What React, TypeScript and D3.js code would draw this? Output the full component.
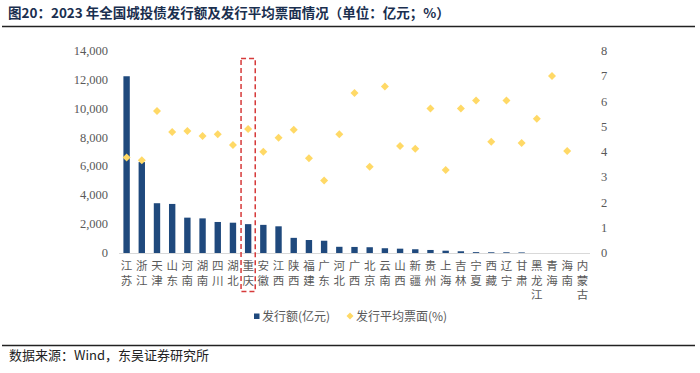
import React from "react";
import { scaleBand, scaleLinear, format, range } from "d3";

const provinces = [
  "江苏", "浙江", "天津", "山东", "河南", "湖南", "四川", "湖北", "重庆", "安徽", "江西",
  "陕西", "福建", "广东", "河北", "广西", "北京", "云南", "山西", "新疆", "贵州", "上海",
  "吉林", "宁夏", "西藏", "辽宁", "甘肃", "黑龙江", "青海", "海南", "内蒙古",
];

// 发行额(亿元)
const issuance = [
  12250, 6300, 3450, 3400, 2450, 2400, 2150, 2100, 2000, 1950, 1850,
  1050, 900, 850, 430, 420, 400, 330, 300, 260, 210, 160,
  120, 60, 50, 50, 40, null, null, null, null,
];

// 发行平均票面(%)
const coupon = [
  3.78, 3.67, 5.62, 4.79, 4.83, 4.63, 4.7, 4.28, 4.91, 4.01, 4.56,
  4.88, 3.75, 2.87, 4.7, 6.34, 3.42, 6.59, 4.24, 4.13, 5.72, 3.29,
  5.72, 6.04, 4.41, 6.04, 4.36, 5.32, 7.01, 4.04, null,
];

const leftTicks = range(0, 14001, 2000);
const rightTicks = range(0, 9, 1);
const highlight = "重庆";

const W = 700;
const H = 373;
const cjk = "'Noto Sans CJK SC', sans-serif";
const serif = "'Liberation Serif', 'Times New Roman', serif";
const grey = "#595959";

export default function App() {
  const x = scaleBand<string>().domain(provinces).range([119, 590]).paddingInner(0.58).paddingOuter(0.29);
  const yL = scaleLinear().domain([0, 14000]).range([253, 51]);
  const yR = scaleLinear().domain([0, 8]).range([253, 51]);
  const fmt = format(",");
  const bw = x.bandwidth();
  const step = x.step();
  const hx = (x(highlight) as number) + bw / 2;

  return (
    <svg width={W} height={H} style={{ position: "absolute", left: 0, top: 0, background: "#fff" }}>
      {/* title */}
      <text x={8} y={18} fontFamily={cjk} fontSize={13.5} fontWeight="bold" fill="#1a2f4f">
        图20：2023 年全国城投债发行额及发行平均票面情况（单位：亿元；%）
      </text>
      <line x1={2} x2={695} y1={26.5} y2={26.5} stroke="#222" strokeWidth={1.5} />

      {/* left axis labels */}
      {leftTicks.map((t) => (
        <text key={"l" + t} x={108} y={yL(t) + 4} textAnchor="end" fontFamily={serif} fontSize={12.5} fill={grey}>
          {fmt(t)}
        </text>
      ))}
      {/* right axis labels */}
      {rightTicks.map((t) => (
        <text key={"r" + t} x={601} y={yR(t) + 4} fontFamily={serif} fontSize={12.5} fill={grey}>
          {t}
        </text>
      ))}

      {/* bars */}
      {provinces.map((p, i) =>
        issuance[i] == null ? null : (
          <rect
            key={"b" + p}
            x={x(p)}
            y={yL(issuance[i] as number)}
            width={bw}
            height={253 - yL(issuance[i] as number)}
            fill="#1f497d"
          />
        )
      )}

      <line x1={119} x2={590} y1={253.5} y2={253.5} stroke="#d9d9d9" strokeWidth={1} />

      {/* coupon diamonds */}
      {provinces.map((p, i) => {
        if (coupon[i] == null) return null;
        const cx = (x(p) as number) + bw / 2;
        const cy = yR(coupon[i] as number);
        const r = 4;
        return (
          <path
            key={"d" + p}
            d={`M${cx},${cy - r}L${cx + r},${cy}L${cx},${cy + r}L${cx - r},${cy}Z`}
            fill="#ffd966"
          />
        );
      })}

      {/* category labels, one character per line */}
      {provinces.map((p) => {
        const cx = (x(p) as number) + bw / 2;
        return p.split("").map((c, k) => (
          <text
            key={"t" + p + k}
            x={cx}
            y={270 + k * 14.5}
            fontFamily={cjk}
            fontSize={11.5}
            fill={grey}
            textAnchor="middle"
          >
            {c}
          </text>
        ));
      })}

      {/* highlight box */}
      <rect
        x={hx - step / 2 + 0.5}
        y={58.5}
        width={step - 1}
        height={233}
        fill="none"
        stroke="#d63a3a"
        strokeWidth={1.5}
        strokeDasharray="5,3"
      />

      {/* legend */}
      <rect x={254} y={313.5} width={5.5} height={5.5} fill="#1f497d" />
      <text x={262} y={320.5} fontFamily={cjk} fontSize={12} fill={grey}>
        发行额(亿元)
      </text>
      <path d="M350,312.5L353.5,316L350,319.5L346.5,316Z" fill="#ffd966" />
      <text x={356} y={320.5} fontFamily={cjk} fontSize={12} fill={grey}>
        发行平均票面(%)
      </text>

      {/* footer */}
      <line x1={2} x2={695} y1={345.5} y2={345.5} stroke="#222" strokeWidth={1.5} />
      <text x={9} y={360} fontFamily={cjk} fontSize={13} fill="#222">
        数据来源：Wind，东吴证券研究所
      </text>
    </svg>
  );
}
